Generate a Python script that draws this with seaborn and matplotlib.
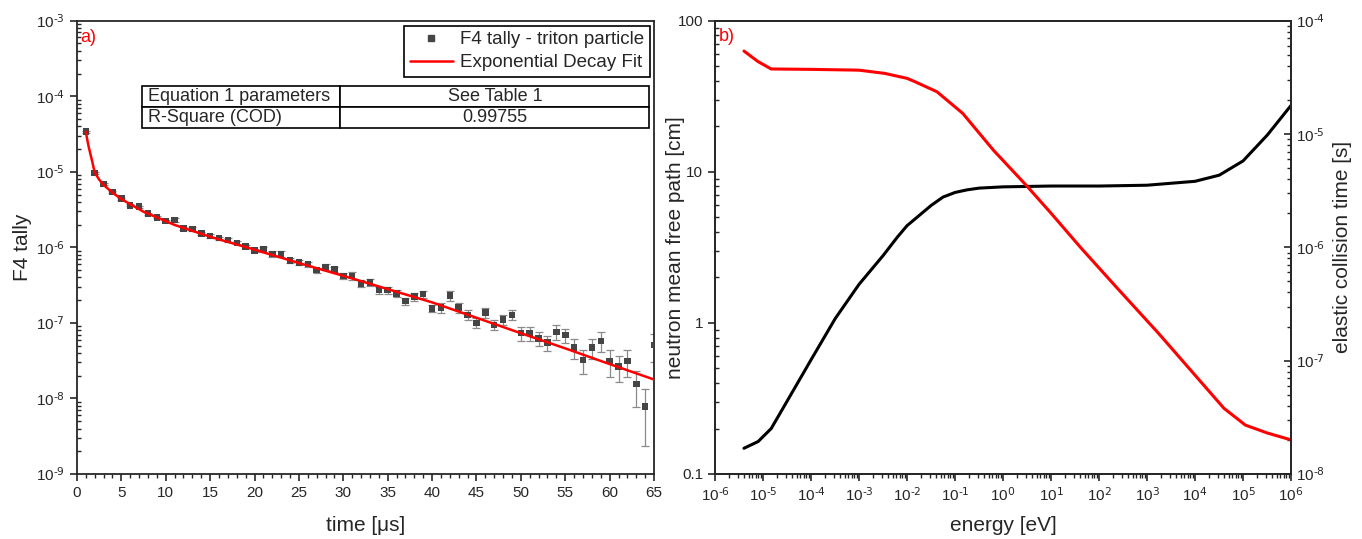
import numpy as np
import pandas as pd
import matplotlib
matplotlib.use("Agg")
import matplotlib.pyplot as plt
import matplotlib.ticker as mticker
import seaborn as sns

# ---------------- data: panel a ----------------
t_vals = list(range(1, 66))
f4_vals = [3.4e-5, 9.7e-6, 6.9e-6, 5.4e-6, 4.4e-6, 3.6e-6, 3.45e-6, 2.8e-6, 2.5e-6, 2.23e-6,
           2.3e-6, 1.79e-6, 1.75e-6, 1.53e-6, 1.41e-6, 1.32e-6, 1.25e-6, 1.15e-6, 1.02e-6, 9.1e-7,
           9.5e-7, 8.2e-7, 8.2e-7, 6.65e-7, 6.3e-7, 6.0e-7, 5.0e-7, 5.5e-7, 5.1e-7, 4.2e-7,
           4.2e-7, 3.34e-7, 3.44e-7, 2.72e-7, 2.72e-7, 2.45e-7, 1.95e-7, 2.22e-7, 2.4e-7, 1.56e-7,
           1.6e-7, 2.3e-7, 1.6e-7, 1.28e-7, 1.0e-7, 1.38e-7, 9.4e-8, 1.11e-7, 1.27e-7, 7.3e-8,
           7.3e-8, 6.25e-8, 5.5e-8, 7.6e-8, 6.9e-8, 4.75e-8, 3.23e-8, 4.75e-8, 5.8e-8, 3.13e-8,
           2.63e-8, 3.13e-8, 1.55e-8, 7.8e-9, 5.1e-8]
err_pct = [3, 3, 3, 3, 3, 3, 3, 3, 3, 3,
           5, 5, 5, 5, 5, 5, 5, 5, 5, 5,
           8, 8, 8, 8, 8, 8, 8, 8, 8, 8,
           11, 11, 11, 11, 11, 11, 11, 11, 11, 11,
           15, 15, 15, 15, 15, 15, 15, 15, 15, 22,
           22, 22, 22, 22, 22, 30, 35, 30, 30, 38,
           38, 38, 50, 70, 40]

fit_t = [1, 1.15, 1.3, 1.5, 1.7, 2, 2.5, 3, 4, 5, 7.5, 11, 15, 19.5, 25, 30, 35, 40, 45,
         50, 55, 60, 65]
fit_v = [3.4e-5, 2.7e-5, 2.2e-5, 1.75e-5, 1.4e-5, 9.8e-6, 7.9e-6, 6.7e-6, 5.3e-6, 4.35e-6,
         2.96e-6, 1.98e-6, 1.38e-6, 9.7e-7, 6.2e-7, 4.2e-7, 2.8e-7, 1.87e-7, 1.17e-7,
         7.3e-8, 4.6e-8, 2.85e-8, 1.78e-8]

# ---------------- data: panel b ----------------
energy_mfp = [4.0e-6, 7.9e-6, 1.48e-5, 3.2e-5, 1e-4, 3.2e-4, 1e-3, 3.2e-3, 6.3e-3, 1e-2,
              3.2e-2, 5.6e-2, 0.1, 0.18, 0.32, 1, 10, 100, 1e3, 3.2e3, 1e4, 3.2e4, 1e5,
              3.2e5, 1e6]
mfp_vals = [0.148, 0.164, 0.20, 0.305, 0.57, 1.07, 1.8, 2.8, 3.7, 4.4,
            6.0, 6.8, 7.3, 7.6, 7.8, 7.95, 8.05, 8.05, 8.15, 8.4, 8.65, 9.5, 11.8,
            17.5, 27.5]

energy_tau = [4.0e-6, 7.9e-6, 1.48e-5, 1e-4, 1e-3, 3.4e-3, 1e-2, 1.45e-2, 4.2e-2, 0.145,
              0.63, 3.0, 10, 41, 214, 1.74e3, 1.41e4, 4.0e4, 1.12e5, 3.2e5, 1e6]
tau_vals = [5.4e-5, 4.35e-5, 3.75e-5, 3.72e-5, 3.66e-5, 3.43e-5, 3.1e-5, 2.9e-5, 2.36e-5,
            1.52e-5, 7.2e-6, 3.55e-6, 2.0e-6, 1.0e-6, 4.6e-7, 1.74e-7, 6.3e-8, 3.8e-8,
            2.7e-8, 2.3e-8, 2.0e-8]

table_rows = [["Equation 1 parameters", "See Table 1"],
              ["R-Square (COD)", "0.99755"]]

# ---------------- style ----------------
sns.set_style("ticks")
plt.rcParams['font.family'] = ['Liberation Sans', 'DejaVu Sans']
plt.rcParams['mathtext.default'] = 'regular'
plt.rcParams['axes.unicode_minus'] = False
plt.rcParams['axes.linewidth'] = 1.3

fig = plt.figure(figsize=(13.62, 5.39), dpi=100)
ax = fig.add_axes([0.0565, 0.1206, 0.4237, 0.8410])
axr = fig.add_axes([0.525, 0.1206, 0.4229, 0.8410])

LABEL_FS = 15
TICK_FS = 11


def pow10_fmt(v, pos):
    if v <= 0:
        return ""
    e = int(round(np.log10(v)))
    return "10$^{\\text{%d}}$" % e


# ---------------- panel a ----------------
df_a = pd.DataFrame({"t": t_vals, "f4": f4_vals, "err": err_pct})
yerr = df_a["f4"] * df_a["err"] / 100.0
ax.errorbar(df_a["t"], df_a["f4"], yerr=yerr, fmt='none', ecolor='#8a8a8a',
            elinewidth=0.9, capsize=3, capthick=0.9, zorder=2)
df_fit = pd.DataFrame({"t": fit_t, "v": fit_v})
sns.lineplot(data=df_fit, x="t", y="v", ax=ax, color='#ff0000', lw=1.8,
             zorder=4, legend=False)
sns.scatterplot(data=df_a, x="t", y="f4", ax=ax, marker='s', s=22, color='#454545',
                edgecolor='none', zorder=3, legend=False)
ax.set_yscale('log')
ax.set_xlim(0, 65)
ax.set_ylim(1e-9, 1e-3)
ax.xaxis.set_major_locator(mticker.MultipleLocator(5))
ax.xaxis.set_minor_locator(mticker.MultipleLocator(1))
ax.yaxis.set_major_locator(mticker.LogLocator(base=10, numticks=20))
ax.yaxis.set_major_formatter(mticker.FuncFormatter(pow10_fmt))
ax.yaxis.set_minor_locator(mticker.LogLocator(base=10, subs=np.arange(2, 10), numticks=100))
ax.yaxis.set_minor_formatter(mticker.NullFormatter())
ax.tick_params(axis='x', which='major', direction='out', length=5, width=1.2, labelsize=TICK_FS)
ax.tick_params(axis='x', which='minor', direction='out', length=3, width=1.0)
ax.tick_params(axis='y', which='major', direction='out', length=5, width=1.2, labelsize=TICK_FS)
ax.tick_params(axis='y', which='minor', direction='in', length=3, width=1.0)
ax.set_xlabel("time [μs]", fontsize=LABEL_FS)
ax.set_ylabel("F4 tally", fontsize=LABEL_FS)
ax.xaxis.set_label_coords(0.5, -0.093)
ax.yaxis.set_label_coords(-0.078, 0.5)
ax.text(0.005, 0.962, "a)", color='#ff0000', fontsize=13, transform=ax.transAxes,
        ha='left', va='center')

h_line, = ax.plot([], [], color='#ff0000', lw=1.8)
h_pt, = ax.plot([], [], ls='none', marker='s', ms=4.5, color='#454545')
leg = ax.legend([h_pt, h_line], ["F4 tally - triton particle", "Exponential Decay Fit"],
                loc='upper right', bbox_to_anchor=(0.993, 0.989), fontsize=13.5,
                frameon=True, fancybox=False, edgecolor='black', framealpha=1,
                borderpad=0.3, handlelength=2.3, handletextpad=0.4, labelspacing=0.3,
                borderaxespad=0)
leg.get_frame().set_linewidth(1.2)

tbl = ax.table(cellText=table_rows, colWidths=[0.391, 0.609],
               bbox=[0.113, 0.763, 0.879, 0.093], cellLoc='center')
tbl.auto_set_font_size(False)
for (r, c), cell in tbl.get_celld().items():
    cell.set_linewidth(1.2)
    cell.set_edgecolor('black')
    cell.get_text().set_fontsize(13)
    if c == 0:
        cell.get_text().set_ha('left')
        cell.PAD = 0.03

# ---------------- panel b ----------------
df_m = pd.DataFrame({"E": energy_mfp, "mfp": mfp_vals})
df_t = pd.DataFrame({"E": energy_tau, "tau": tau_vals})
sns.lineplot(data=df_m, x="E", y="mfp", ax=axr, color='black', lw=2.2)
axr.set_xscale('log')
axr.set_yscale('log')
axr.set_xlim(1e-6, 1e6)
axr.set_ylim(0.1, 100)
ax2 = axr.twinx()
sns.lineplot(data=df_t, x="E", y="tau", ax=ax2, color='#ff0000', lw=2.2)
ax2.set_xlabel("")
ax2.set_yscale('log')
ax2.set_ylim(1e-8, 1e-4)
ax2.set_xlim(1e-6, 1e6)

axr.xaxis.set_major_locator(mticker.LogLocator(base=10, numticks=30))
axr.xaxis.set_major_formatter(mticker.FuncFormatter(pow10_fmt))
axr.xaxis.set_minor_locator(mticker.LogLocator(base=10, subs=np.arange(2, 10), numticks=200))
axr.xaxis.set_minor_formatter(mticker.NullFormatter())
axr.yaxis.set_major_locator(mticker.FixedLocator([0.1, 1, 10, 100]))
axr.yaxis.set_major_formatter(mticker.FixedFormatter(["0.1", "1", "10", "100"]))
axr.yaxis.set_minor_locator(mticker.LogLocator(base=10, subs=np.arange(2, 10), numticks=100))
axr.yaxis.set_minor_formatter(mticker.NullFormatter())
ax2.yaxis.set_major_locator(mticker.LogLocator(base=10, numticks=20))
ax2.yaxis.set_major_formatter(mticker.FuncFormatter(pow10_fmt))
ax2.yaxis.set_minor_locator(mticker.LogLocator(base=10, subs=np.arange(2, 10), numticks=100))
ax2.yaxis.set_minor_formatter(mticker.NullFormatter())

axr.tick_params(axis='x', which='major', direction='out', length=5, width=1.2, labelsize=TICK_FS)
axr.tick_params(axis='x', which='minor', direction='out', length=3, width=1.0)
axr.tick_params(axis='y', which='major', direction='out', length=5, width=1.2, labelsize=TICK_FS)
axr.tick_params(axis='y', which='minor', direction='in', length=3, width=1.0)
ax2.tick_params(axis='y', which='major', direction='in', length=5, width=1.2, labelsize=TICK_FS)
ax2.tick_params(axis='y', which='minor', direction='in', length=3, width=1.0)

axr.set_xlabel("energy [eV]", fontsize=LABEL_FS)
axr.xaxis.set_label_coords(0.5, -0.093)
axr.set_ylabel("neutron mean free path [cm]", fontsize=LABEL_FS)
axr.yaxis.set_label_coords(-0.052, 0.5)
ax2.set_ylabel("elastic collision time [s]", fontsize=LABEL_FS)
ax2.yaxis.set_label_coords(1.073, 0.5)
axr.text(0.006, 0.966, "b)", color='#ff0000', fontsize=13, transform=axr.transAxes,
         ha='left', va='center')

for a in (ax, axr, ax2):
    for s in a.spines.values():
        s.set_visible(True)
        s.set_linewidth(1.3)
    a.xaxis.get_offset_text().set_visible(False)
    a.yaxis.get_offset_text().set_visible(False)

fig.savefig("out.png", dpi=100)
